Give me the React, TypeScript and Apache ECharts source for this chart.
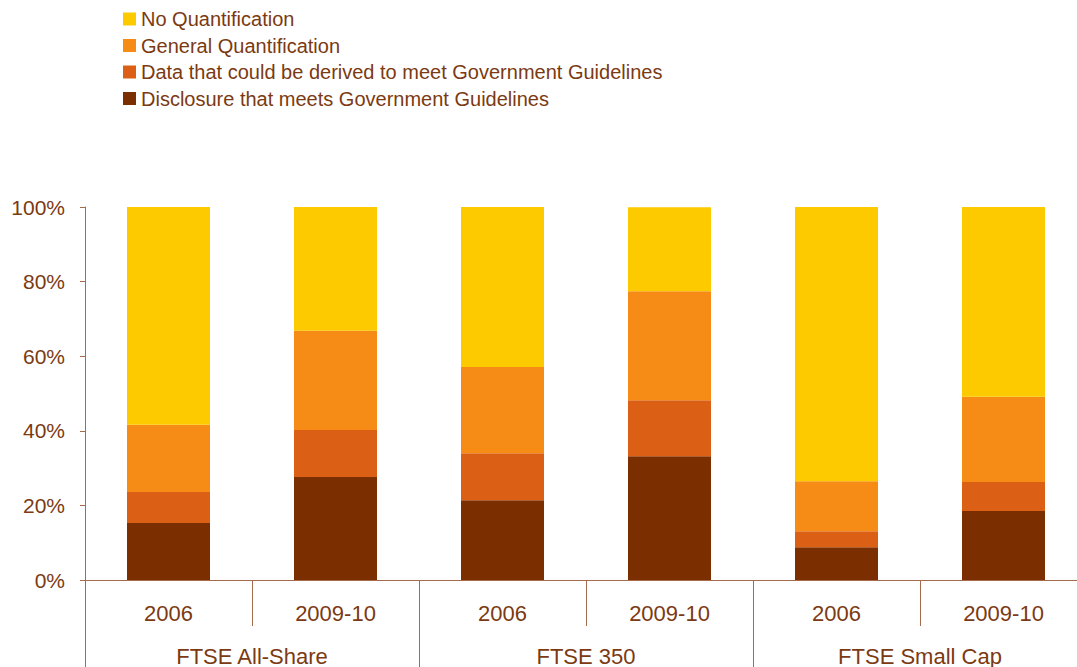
import React, { useEffect, useRef } from "react";
import * as echarts from "echarts";

const years = ["2006", "2009-10", "2006", "2009-10", "2006", "2009-10"];
const groups = ["FTSE All-Share", "FTSE 350", "FTSE Small Cap"];
const disclosure = [15.3, 27.6, 21.4, 33.2, 8.8, 18.5];
const derived = [8.3, 12.6, 12.6, 15.0, 4.3, 7.8];
const general = [18.0, 26.6, 23.1, 29.2, 13.4, 22.8];
const noQuant = [58.4, 33.2, 42.9, 22.5, 73.5, 50.9];
const yTicks = [0, 20, 40, 60, 80, 100];

const TEXT = "#7B3A12";
const AXIS = "#A66B4C";
const FONT = "'Liberation Sans', Arial, sans-serif";

export default function App() {
  const ref = useRef<HTMLDivElement>(null);
  useEffect(() => {
    if (!ref.current) return;
    const chart = echarts.init(ref.current, null, { renderer: "svg" });
    const mk = (name: string, data: number[], color: string) => ({
      name,
      type: "bar",
      stack: "total",
      data,
      barWidth: 83,
      itemStyle: { color },
      emphasis: { disabled: true },
    });
    chart.setOption({
      animation: false,
      textStyle: { fontFamily: FONT },
      legend: {
        orient: "vertical",
        left: 118,
        top: 4,
        itemWidth: 13,
        itemHeight: 13,
        itemGap: 6.5,
        itemTextGap: 8,
        icon: "rect",
        selectedMode: false,
        textStyle: { color: TEXT, fontSize: 20, lineHeight: 20, fontFamily: FONT },
        data: [
          "No Quantification",
          "General Quantification",
          "Data that could be derived to meet Government Guidelines",
          "Disclosure that meets Government Guidelines",
        ],
      },
      grid: { left: 85, right: 13, top: 207, bottom: 87 },
      xAxis: [
        {
          type: "category",
          data: years,
          position: "bottom",
          axisLine: { show: true, lineStyle: { color: AXIS, width: 1 } },
          axisTick: { show: true, interval: 0, length: 46, lineStyle: { color: AXIS } },
          axisLabel: { interval: 0, color: TEXT, fontSize: 22, margin: 22, fontFamily: FONT },
        },
        {
          type: "category",
          data: groups,
          position: "bottom",
          axisLine: { show: false },
          axisTick: { show: true, interval: 0, length: 90, lineStyle: { color: AXIS } },
          axisLabel: { interval: 0, color: TEXT, fontSize: 22, margin: 65, fontFamily: FONT },
        },
      ],
      yAxis: {
        type: "value",
        min: 0,
        max: 100,
        interval: 20,
        axisLine: { show: true, lineStyle: { color: AXIS } },
        axisTick: { show: true, length: 5, lineStyle: { color: AXIS } },
        splitLine: { show: false },
        axisLabel: {
          color: TEXT,
          fontSize: 21,
          margin: 20,
          fontFamily: FONT,
          formatter: (v: number) => (yTicks.includes(v) ? v + "%" : ""),
        },
      },
      series: [
        mk("Disclosure that meets Government Guidelines", disclosure, "#7B2E00"),
        mk("Data that could be derived to meet Government Guidelines", derived, "#DB5F15"),
        mk("General Quantification", general, "#F68B15"),
        mk("No Quantification", noQuant, "#FDCA00"),
      ],
    });
    return () => chart.dispose();
  }, []);
  return (
    <div style={{ position: "fixed", left: 0, top: 0, width: 1077, height: 667, overflow: "hidden", background: "#fff" }}>
      <div ref={ref} style={{ width: 1100, height: 667 }} />
    </div>
  );
}
